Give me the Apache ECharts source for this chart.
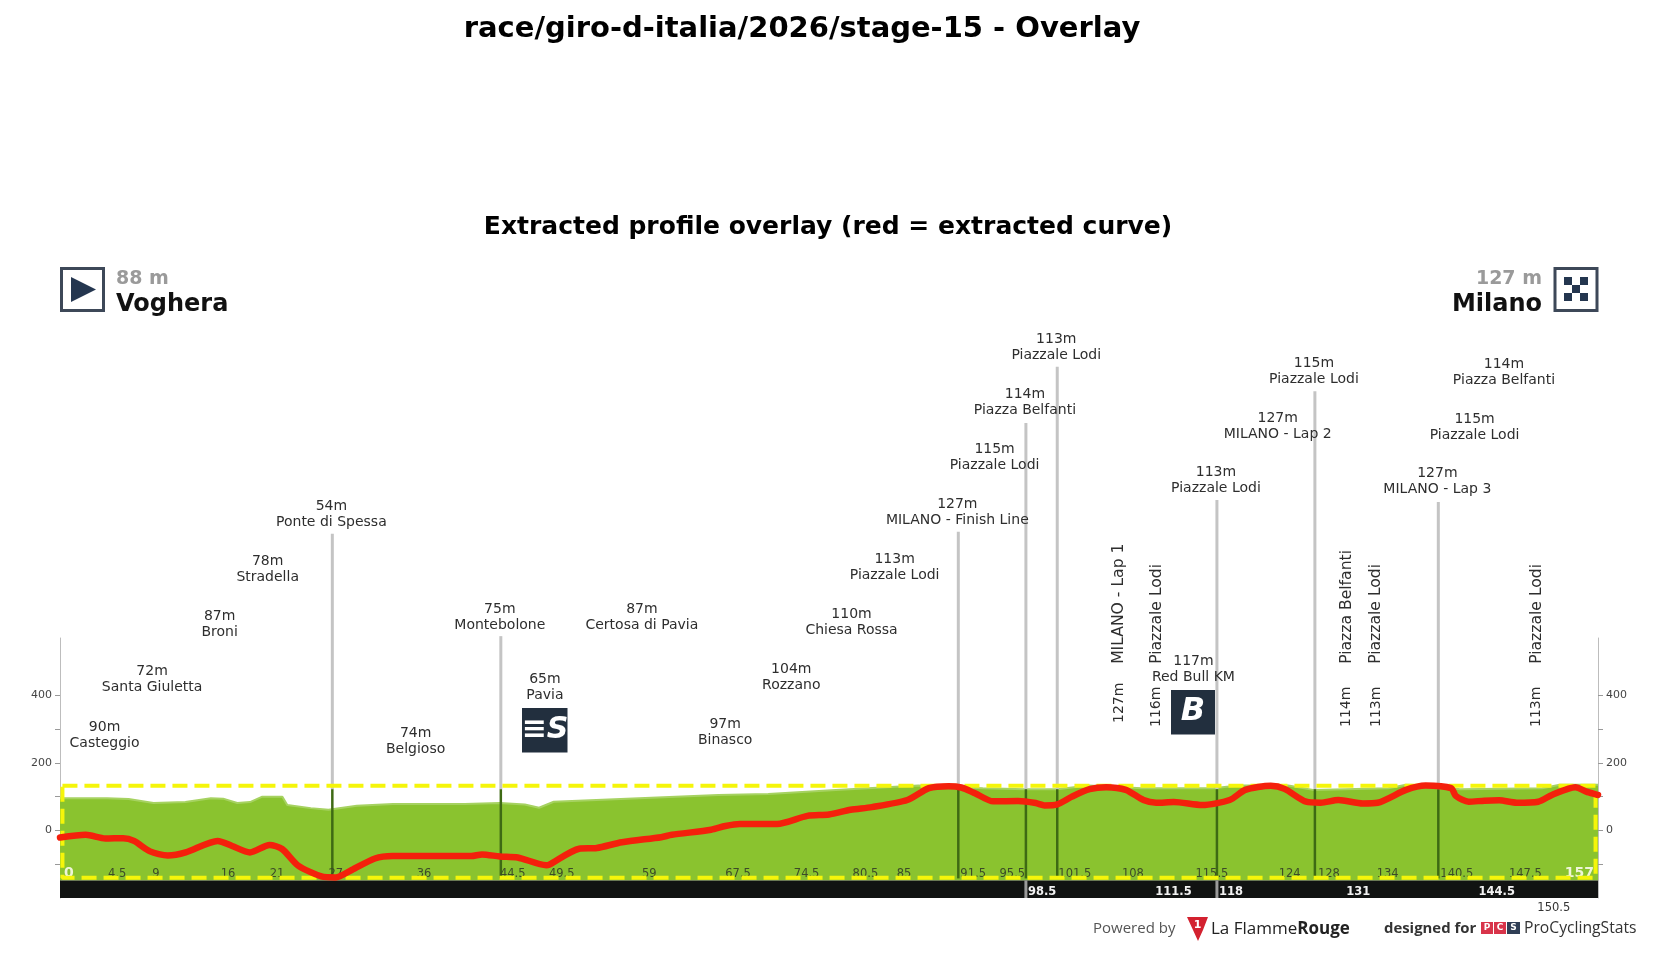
<!DOCTYPE html>
<html>
<head>
<meta charset="utf-8">
<style>html,body{margin:0;padding:0;background:#fff}#c{width:1657px;height:962px}</style>
<script src="https://cdn.jsdelivr.net/npm/echarts@6/dist/echarts.min.js"></script>
</head>
<body>
<div id="c"></div>
<script>
// ---------- data (km along the stage / metres on the plot's y scale) ----------
const profileKm = [0,4.8,7,9.55,12.8,15.4,16.65,18.1,19.4,20.65,22.7,23.2,25.6,27.4,30.3,34,41.3,44.9,47.45,48.9,50.4,67.2,72.3,79.2,87.6,94.2,98.5,101.8,105,110.4,117.7,120.3,125.4,127.9,135.6,137.4,140.3,142.9,151.3,153.1,157];
const profileM  = [95,95,93,81,84,95,94,81,84,100,100,75,66,61,73,78,78,81,77,67,85,105,108,120,133,125,122,122,133,125,125,133,133,120,125,135,133,122,125,135,135];

const curveKm = [0,2.63,4.63,6.45,7.55,9.19,11,12.83,16.1,17.57,19.39,21.4,22.67,24.31,26.68,28.14,29.78,32.15,33.97,41.98,43.08,44.9,46.72,49.64,49.9,53,54.8,57.36,61.37,62.46,66.47,67.93,69.39,73.2,76.3,78.5,80.7,82.87,86.5,88.7,90.7,92,93.4,95.26,97.8,99.6,100.5,101.8,103.3,105.1,106.8,108.8,110.6,111.9,113.7,116.6,119.4,121,123.6,125,127.2,128.7,130.5,133,134.5,137.4,139.4,142,142.5,143.8,145.4,146.9,148.7,150.9,152.3,154.7,155.8,157];
const curveM  = [-21,-13,-24,-23,-31,-62,-74,-65,-31,-46,-65,-43,-55,-104,-136,-139,-117,-83,-76,-76,-71,-77,-80,-103,-102,-54,-52,-35,-20,-13,2,13,19,19,43,47,61,69,90,125,131,127,110,86,87,81,74,77,100,122,128,120,90,82,84,75,90,120,132,123,85,82,90,80,82,120,133,125,102,85,88,89,82,85,105,128,115,105];

const boxKm = [0.25,156.75,156.75,0.25,0.25];
const boxM  = [132,132,-140,-140,132];

const pinKm  = [27.8,45,91.7,98.6,101.8,118.1,128.1,140.7];
const pinTop = [878,575,884,1206,1372,978,1300,972];
const barCrossKm = [98.6,118.1];

const placeKm   = [4.55,9.4,16.3,21.2,27.7,36.3,44.9,49.5,59.4,67.9,74.65,80.8,85.2,91.6,95.4,98.5,101.7,115.7,118,124.3,128,140.6,144.4,147.4];
const placeAt   = [285,450,612,775,938,268,634,425,634,293,456,619,781,944,1106,1269,1432,481,1038,1200,1363,1035,1197,1360];
const placeElev = ['90m','72m','87m','78m','54m','74m','75m','65m','87m','97m','104m','110m','113m','127m','115m','114m','113m','117m','113m','127m','115m','127m','115m','114m'];
const placeName = ['Casteggio','Santa Giuletta','Broni','Stradella','Ponte di Spessa','Belgioso','Montebolone','Pavia','Certosa di Pavia','Binasco','Rozzano','Chiesa Rossa','Piazzale Lodi','MILANO - Finish Line','Piazzale Lodi','Piazza Belfanti','Piazzale Lodi','Red Bull KM','Piazzale Lodi','MILANO - Lap 2','Piazzale Lodi','MILANO - Lap 3','Piazzale Lodi','Piazza Belfanti'];

const sideKm   = [108.1,111.95,131.35,134.35,150.75];
const sideElev = ['127m','116m','114m','113m','113m'];
const sideName = ['MILANO - Lap 1','Piazzale Lodi','Piazza Belfanti','Piazzale Lodi','Piazzale Lodi'];
const sideElevAt = [318,306,306,306,306];
const sideNameAt = [493,493,493,493,493];

const kmLabels = [0,4.5,9,16,21,27,36,44.5,49.5,59,67.5,74.5,80.5,85,91.5,95.5,101.5,108,115.5,124,128,134,140.5,147.5,157];
const barLabels = [98.5,111.5,118,131,144.5];
const lowerLabels = [150.5];

const yTicks = [-100,0,100,200,300,400];
const yLabels = [0,200,400];

const titleMain = 'race/giro-d-italia/2026/stage-15 - Overlay';
const titleSub  = 'Extracted profile overlay (red = extracted curve)';

// ---------- helpers ----------
const zip = (a,b)=>a.map((v,i)=>[v,b[i]]);
const FONT = '"DejaVu Sans",sans-serif';
const textEl = (x,y,text,o)=>({type:'text',x,y,rotation:o.rotation||0,silent:true,
  style:{text,font:o.font,fill:o.fill,align:o.align||'center',verticalAlign:o.va||'middle',
         textAlign:o.align||'center',textVerticalAlign:o.va||'middle',lineHeight:o.lh}});
const yAxisBase = (pos)=>({
  type:'value',position:pos,min:-200,max:569.5,
  splitLine:{show:false},
  axisLine:{show:true,onZero:false,lineStyle:{color:'#bdbdbd',width:1}},
  axisTick:{show:true,length:5,customValues:yTicks,lineStyle:{color:'#999',width:1}},
  axisLabel:{customValues:yLabels,color:'#444',fontSize:11,fontFamily:FONT,margin:8}
});
const chart = echarts.init(document.getElementById('c'),null,{renderer:'canvas'});

const pinSeries = (name,z,top,bottom,color,width)=>({
  type:'custom',name,z,clip:false,silent:true,
  encode:{x:0,y:1},
  data:top,
  renderItem(p,api){
    const a=api.coord([api.value(0),api.value(1)]);
    const b=api.coord([api.value(0),bottom]);
    return {type:'line',shape:{x1:a[0],y1:a[1],x2:b[0],y2:b[1]},style:{stroke:color,lineWidth:width}};
  }
});

const option = {
  animation:false,
  backgroundColor:'#fff',
  title:[
    {text:titleMain,left:797,top:10,textAlign:'center',textStyle:{fontFamily:FONT,fontWeight:'bold',fontSize:29,color:'#000'}},
    {text:titleSub,left:823,top:210,textAlign:'center',textStyle:{fontFamily:FONT,fontWeight:'bold',fontSize:25,color:'#000'}}
  ],
  grid:{left:60,right:59,top:638,bottom:64,containLabel:false},
  xAxis:{type:'value',min:0,max:157,show:false},
  yAxis:[yAxisBase('left'),Object.assign(yAxisBase('right'),{})],
  series:[
    { type:'line',name:'profile',z:2,data:zip(profileKm,profileM),symbol:'none',silent:true,
      lineStyle:{color:'#a6d261',width:2},
      areaStyle:{color:'#8ac32f',origin:-148,opacity:1},
      markArea:{silent:true,z:3,itemStyle:{color:'#111312',opacity:1},
        data:[[{coord:[0,-148]},{coord:[157,-200]}]]}
    },
    pinSeries('pinUpper',3,pinTop.map((t,i)=>[pinKm[i],t]),122,'#c4c4c4',3),
    pinSeries('pinLower',4,pinKm.map(k=>[k,122]),-142,'#3e6a14',2.5),
    pinSeries('barCross',4,barCrossKm.map(k=>[k,-148]),-200,'#9a9a9a',3),
    { type:'custom',name:'kmLabels',z:5,clip:false,silent:true,encode:{x:0,y:1},
      data:kmLabels.map(k=>[k,-128]),
      renderItem(p,api){
        const k=api.value(0), c=api.coord([k,api.value(1)]);
        const edge=(k===0||k===157);
        return textEl(c[0]+(k===157?-4:4),c[1],String(k),{
          font:(edge?'bold 14px ':'11.5px ')+FONT,
          fill:edge?'#eef5d8':'#3c4a28',align:k===157?'right':'left'});
      }},
    { type:'custom',name:'barLabels',z:6,clip:false,silent:true,encode:{x:0,y:1},
      data:barLabels.map(k=>[k,-181]),
      renderItem(p,api){
        const k=api.value(0), c=api.coord([k,api.value(1)]);
        return textEl(c[0]+3,c[1],String(k),{font:'bold 11.5px '+FONT,fill:'#f2f2f2',align:'left'});
      }},
    { type:'custom',name:'lowerLabels',z:6,clip:false,silent:true,encode:{x:0,y:1},
      data:lowerLabels.map(k=>[k,-231]),
      renderItem(p,api){
        const k=api.value(0), c=api.coord([k,api.value(1)]);
        return textEl(c[0]+3,c[1],String(k),{font:'11.5px '+FONT,fill:'#333',align:'left'});
      }},
    { type:'custom',name:'places',z:6,clip:false,silent:true,encode:{x:0,y:1},
      data:placeKm.map((k,i)=>[k,placeAt[i],i]),
      renderItem(p,api){
        const c=api.coord([api.value(0),api.value(1)]), i=api.value(2);
        return textEl(c[0],c[1]+1,placeElev[i]+'\n'+placeName[i],{font:'14px '+FONT,fill:'#2e2e2e',lh:16});
      }},
    { type:'custom',name:'sideElev',z:6,clip:false,silent:true,encode:{x:0,y:1},
      data:sideKm.map((k,i)=>[k,sideElevAt[i],i]),
      renderItem(p,api){
        const c=api.coord([api.value(0),api.value(1)]), i=api.value(2);
        return textEl(c[0],c[1],sideElev[i],{font:'14px '+FONT,fill:'#2e2e2e',align:'left',rotation:Math.PI/2});
      }},
    { type:'custom',name:'sideName',z:6,clip:false,silent:true,encode:{x:0,y:1},
      data:sideKm.map((k,i)=>[k,sideNameAt[i],i]),
      renderItem(p,api){
        const c=api.coord([api.value(0),api.value(1)]), i=api.value(2);
        return textEl(c[0],c[1],sideName[i],{font:'15.6px '+FONT,fill:'#2e2e2e',align:'left',rotation:Math.PI/2});
      }},
    { type:'line',name:'box',z:7,data:zip(boxKm,boxM),symbol:'none',silent:true,clip:false,
      lineStyle:{color:'#f5f50a',width:4,type:[15,7]}},
    { type:'line',name:'curve',z:8,data:zip(curveKm,curveM),symbol:'none',silent:true,clip:false,smooth:0.25,
      lineStyle:{color:'#f4200c',width:6.5,cap:'round',join:'round'}}
  ],
  graphic:[
    // start panel
    {type:'rect',shape:{x:61.5,y:268.5,width:42,height:42},style:{fill:'#fff',stroke:'#3d4858',lineWidth:3}},
    {type:'polygon',shape:{points:[[71,277],[71,302],[96,289.5]]},style:{fill:'#24364f'}},
    {type:'text',x:116,y:279,style:{text:'88 m',font:'bold 19px '+FONT,fill:'#9a9a9a',verticalAlign:'middle'}},
    {type:'text',x:116,y:305,style:{text:'Voghera',font:'bold 24px '+FONT,fill:'#111',verticalAlign:'middle'}},
    // finish panel
    {type:'rect',shape:{x:1555,y:268.5,width:42,height:42},style:{fill:'#fff',stroke:'#3d4858',lineWidth:3}},
    {type:'rect',shape:{x:1564,y:277,width:8,height:8},style:{fill:'#24364f'}},
    {type:'rect',shape:{x:1580,y:277,width:8,height:8},style:{fill:'#24364f'}},
    {type:'rect',shape:{x:1572,y:285,width:8,height:8},style:{fill:'#24364f'}},
    {type:'rect',shape:{x:1564,y:293,width:8,height:8},style:{fill:'#24364f'}},
    {type:'rect',shape:{x:1580,y:293,width:8,height:8},style:{fill:'#24364f'}},
    {type:'text',x:1542,y:279,style:{text:'127 m',font:'bold 19px '+FONT,fill:'#9a9a9a',align:'right',verticalAlign:'middle'}},
    {type:'text',x:1542,y:305,style:{text:'Milano',font:'bold 24px '+FONT,fill:'#111',align:'right',verticalAlign:'middle'}},
    // sprint badges
    {type:'rect',shape:{x:522,y:708,width:45.5,height:44.5},style:{fill:'#222f3e'}},
    {type:'text',x:545,y:730,style:{text:'≡S',font:'italic bold 30px '+FONT,fill:'#fff',align:'center',verticalAlign:'middle'}},
    {type:'rect',shape:{x:1171,y:690,width:44,height:44.5},style:{fill:'#222f3e'}},
    {type:'text',x:1193,y:712,style:{text:'B',font:'italic bold 32px '+FONT,fill:'#fff',align:'center',verticalAlign:'middle'}},
    // footer
    {type:'text',x:1093,y:929,style:{text:'Powered by',font:'15px "Open Sans",sans-serif',fill:'#555',verticalAlign:'middle'}},
    {type:'polygon',shape:{points:[[1187,917],[1208,917],[1203,930],[1198,941],[1193,930]]},style:{fill:'#d3212f'}},
    {type:'text',x:1197.5,y:925,style:{text:'1',font:'bold 11px '+FONT,fill:'#fff',align:'center',verticalAlign:'middle'}},
    {type:'text',x:1211,y:929,style:{rich:{a:{font:'17px "Open Sans",sans-serif',fill:'#222'},b:{font:'bold 17px "Open Sans",sans-serif',fill:'#222'}},text:'{a|La Flamme}{b|Rouge}',verticalAlign:'middle'}},
    {type:'text',x:1384,y:929,style:{text:'designed for',font:'bold 14.9px "Open Sans",sans-serif',fill:'#333',verticalAlign:'middle'}},
    {type:'rect',shape:{x:1481,y:922,width:12,height:12},style:{fill:'#d8344a'}},
    {type:'rect',shape:{x:1494,y:922,width:12,height:12},style:{fill:'#d8344a'}},
    {type:'rect',shape:{x:1507,y:922,width:13,height:12},style:{fill:'#2f3e55'}},
    {type:'text',x:1487,y:928,style:{text:'P',font:'bold 9px '+FONT,fill:'#fff',align:'center',verticalAlign:'middle'}},
    {type:'text',x:1500,y:928,style:{text:'C',font:'bold 9px '+FONT,fill:'#fff',align:'center',verticalAlign:'middle'}},
    {type:'text',x:1513.5,y:928,style:{text:'S',font:'bold 9px '+FONT,fill:'#fff',align:'center',verticalAlign:'middle'}},
    {type:'text',x:1524,y:929,style:{text:'ProCyclingStats',font:'15.7px "Open Sans",sans-serif',fill:'#333',verticalAlign:'middle'}}
  ]
};
chart.setOption(option);
</script>
</body>
</html>
